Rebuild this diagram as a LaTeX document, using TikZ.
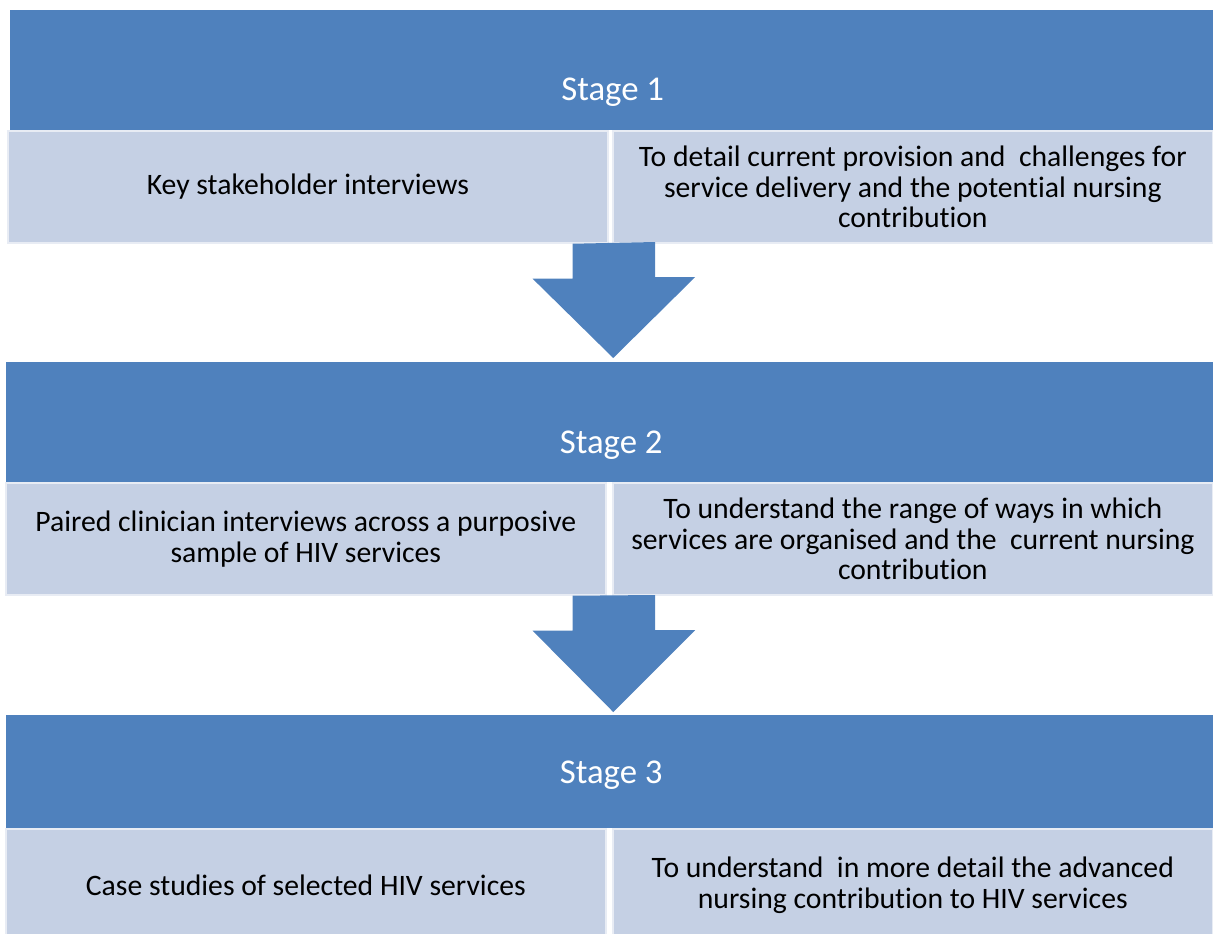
\documentclass[tikz,border=0pt]{standalone}
\usepackage{fontspec}
\setmainfont{Carlito}[Ligatures=NoCommon]
\usetikzlibrary{positioning,calc}
\definecolor{bandblue}{HTML}{4F81BD}
\definecolor{cellblue}{HTML}{C5D0E4}
\tikzset{
  band/.style={fill=bandblue, inner sep=0pt, minimum height=2.4cm, anchor=north west},
  bandtext/.style={text=white, inner sep=0pt, font=\fontsize{19.8}{22}\selectfont},
  cell/.style={fill=cellblue, draw=cellblue!40!white, line width=1pt, inner sep=0pt,
    minimum width=12cm, minimum height=2.24cm, anchor=north west, align=center,
    font=\fontsize{16.9}{17.6}\selectfont},
  downarrow/.style={fill=bandblue}
}
\begin{document}
\begin{tikzpicture}[x=0.02cm,y=-0.02cm]
  \useasboundingbox (0,0) rectangle (1213,933);
  \clip (0,0) rectangle (1213,933);
  \node[band, minimum width=24.1cm] (s1) at (10,10) {};
  \node[bandtext] (s1t) at ($(s1.south)+(0,-38)$) {Stage 1};
  \node[cell] (a1) at (7,130) {Key stakeholder interviews};
  \node[cell] (b1) at (612,130) {To detail current provision and\ \ challenges for\\service delivery and the potential nursing\\contribution};

  \node[band, minimum width=24.2cm] (s2) at (6,362) {};
  \node[bandtext] (s2t) at ($(s2.south)+(0,-37)$) {Stage 2};
  \node[cell] (a2) at (5,482) {Paired clinician interviews across a purposive\\sample of HIV services};
  \node[cell] (b2) at (612,482) {To understand the range of ways in which\\services are organised and the\ \ current nursing\\contribution};

  \node[band, minimum width=24.2cm, minimum height=2.26cm] (s3) at (6,715) {};
  \node[bandtext] (s3t) at ($(s3.south)+(0,-53)$) {Stage 3};
  \node[cell] (a3) at (5,828) {Case studies of selected HIV services};
  \node[cell] (b3) at (612,828) {To understand\ \ in more detail the advanced\\nursing contribution to HIV services};

  \fill[downarrow] ($(a1.south east)+(-36,0)$) -- ++(0,35) -- ++(-40,0) -- ($(s2.north west)!0.5!(s2.north east)+(2,-4)$)
    -- ++(82,-81) -- ++(-40,0) -- ++(0,-35) -- cycle;
  \fill[downarrow] ($(a2.south east)+(-34,0)$) -- ++(0,35) -- ++(-40,0) -- ($(s3.north west)!0.5!(s3.north east)+(2,-3)$)
    -- ++(82,-82) -- ++(-40,0) -- ++(0,-35) -- cycle;
\end{tikzpicture}
\end{document}
